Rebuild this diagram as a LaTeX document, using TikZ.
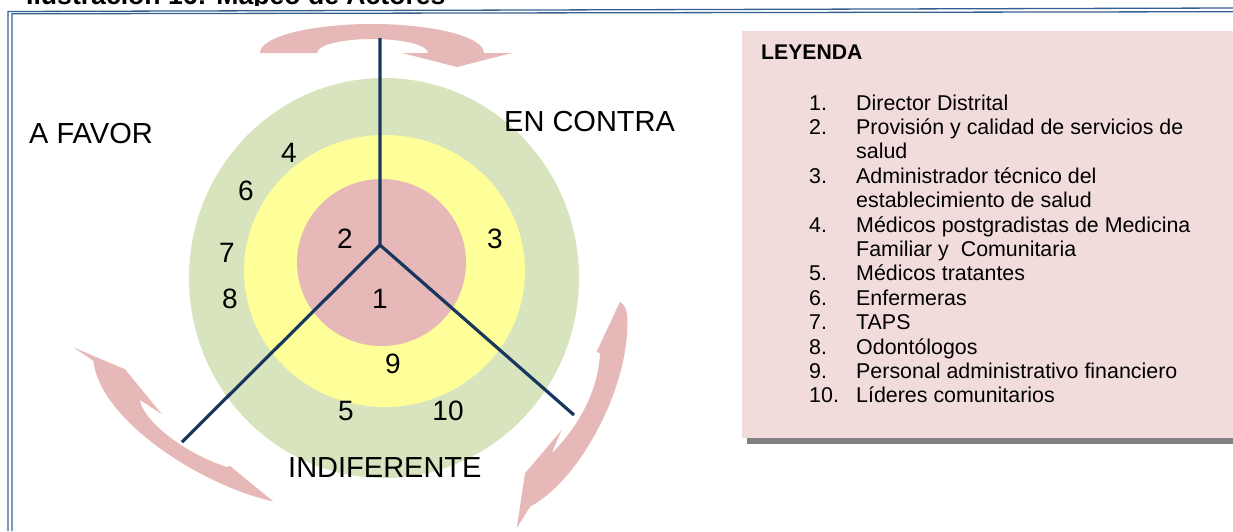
\documentclass[tikz,border=0pt]{standalone}
\usepackage{fontspec}
\setmainfont{Liberation Sans}
\definecolor{arrowpink}{RGB}{230,185,184}
\definecolor{innerpink}{RGB}{230,184,183}
\definecolor{ringyellow}{RGB}{255,255,153}
\definecolor{ringgreen}{RGB}{215,228,189}
\definecolor{spokeblue}{RGB}{23,55,94}
\definecolor{frameblue}{RGB}{54,95,145}
\definecolor{legendpink}{RGB}{242,220,219}
\definecolor{shadowgray}{RGB}{128,128,128}
\begin{document}
\begin{tikzpicture}[x=1pt,y=-1pt,
  framestroke/.style={draw=frameblue,line width=1.3pt},
  arrowfill/.style={fill=arrowpink},
  spokeline/.style={draw=spokeblue,line width=3.2pt},
  lbl/.style={font=\fontsize{29}{34}\selectfont,inner sep=0pt,anchor=base west},
  num/.style={font=\fontsize{28}{33}\selectfont,inner sep=0pt,anchor=base},
  leg/.style={font=\fontsize{21.4}{24}\selectfont,inner sep=0pt,anchor=base west}]
\useasboundingbox (0,0) rectangle (1233,531);

% clipped title
\begin{scope}
\clip (0,0) rectangle (1233,5);
\node[font=\bfseries\fontsize{26.6}{30}\selectfont,inner sep=0pt,anchor=base west] (title) at (26,4.5) {Ilustración 16: Mapeo de Actores};
\end{scope}

% frame
\draw[framestroke] (8,531) -- (8,11.5) -- (1233,8);
\draw[framestroke] (12,531) -- (12,13.8) -- (1233,11.7);

% rings
\fill[ringgreen] (384,278) ellipse [x radius=195pt, y radius=200pt];
\fill[ringyellow] (384.5,271) ellipse [x radius=140.5pt, y radius=136pt];
\fill[innerpink] (381.5,262.5) ellipse [x radius=84.5pt, y radius=83.5pt];

% curved arrows
\fill[arrowfill] (260,53) .. controls (260,37) and (310,24) .. (372,24)
  .. controls (434,24) and (484,37) .. (484,53)
  -- (512,53) -- (457,67) -- (402,53) -- (428,53)
  .. controls (428,45) and (403,39) .. (372.5,39)
  .. controls (342,39) and (317,45) .. (317,53) -- cycle;

\fill[arrowfill] (73.3,347.3) -- (125,369.3) -- (161.7,414) -- (140,400)
  .. controls (142,418) and (180,452) .. (227,467)
  -- (230,466) -- (273.3,501.5)
  .. controls (200,485) and (100,420) .. (93.3,360.7) -- cycle;

\fill[arrowfill] (620,301.7) .. controls (626,305) and (628,314) .. (627.3,325)
  .. controls (627,390) and (580,480) .. (530,506.7)
  -- (516.7,528.3) -- (525,473.3) -- (561.7,430) -- (551.7,453.3)
  .. controls (575,430) and (598,395) .. (600,353.3)
  -- (596.7,351.7) -- cycle;

% spokes
\coordinate (hub) at (380,245);
\coordinate (topend) at (380,38);
\coordinate (leftend) at (182,442);
\coordinate (rightend) at (574,415);
\draw[spokeline] (topend) -- (hub) -- (leftend);
\draw[spokeline] (hub) -- (rightend);

% sector labels
\node[lbl] (favor) at (29,143) {A FAVOR};
\node[lbl] (contra) at (504,131.5) {EN CONTRA};
\node[lbl] (indif) at (288,477) {INDIFERENTE};

% actor numbers
\node[num] (n4) at (289,162) {4};
\node[num] (n6) at (246,200) {6};
\node[num] (n7) at (227,262) {7};
\node[num] (n8) at (230,308) {8};
\node[num] (n2) at (345,248) {2};
\node[num] (n3) at (495,248) {3};
\node[num] (n1) at (380,308) {1};
\node[num] (n9) at (393,373) {9};
\node[num] (n5) at (346,420) {5};
\node[num] (n10) at (448,420) {10};

% legend
\fill[shadowgray] (747,37) rectangle (1240,444);
\fill[legendpink] (742,31) rectangle (1240,438);
\node[leg,font=\bfseries\fontsize{21.2}{24}\selectfont] (leyenda) at (761,59) {LEYENDA};
\node[leg] (l1n) at (809,110) {1.};
\node[leg] (l1t) at (856,110) {Director Distrital};
\node[leg] (l2n) at (809,134.4) {2.};
\node[leg] (l2t) at (856,134.4) {Provisión y calidad de servicios de};
\node[leg] (l2u) at (856,158.8) {salud};
\node[leg] (l3n) at (809,183.2) {3.};
\node[leg] (l3t) at (856,183.2) {Administrador técnico del};
\node[leg] (l3u) at (856,207.6) {establecimiento de salud};
\node[leg] (l4n) at (809,232) {4.};
\node[leg] (l4t) at (856,232) {Médicos postgradistas de Medicina};
\node[leg] (l4u) at (856,256.4) {Familiar y\ \ Comunitaria};
\node[leg] (l5n) at (809,280.8) {5.};
\node[leg] (l5t) at (856,280.8) {Médicos tratantes};
\node[leg] (l6n) at (809,305.2) {6.};
\node[leg] (l6t) at (856,305.2) {Enfermeras};
\node[leg] (l7n) at (809,329.6) {7.};
\node[leg] (l7t) at (856,329.6) {TAPS};
\node[leg] (l8n) at (809,354) {8.};
\node[leg] (l8t) at (856,354) {Odontólogos};
\node[leg] (l9n) at (809,378.4) {9.};
\node[leg] (l9t) at (856,378.4) {Personal administrativo financiero};
\node[leg] (l10n) at (809,402.8) {10.};
\node[leg] (l10t) at (856,402.8) {Líderes comunitarios};
\end{tikzpicture}
\end{document}
